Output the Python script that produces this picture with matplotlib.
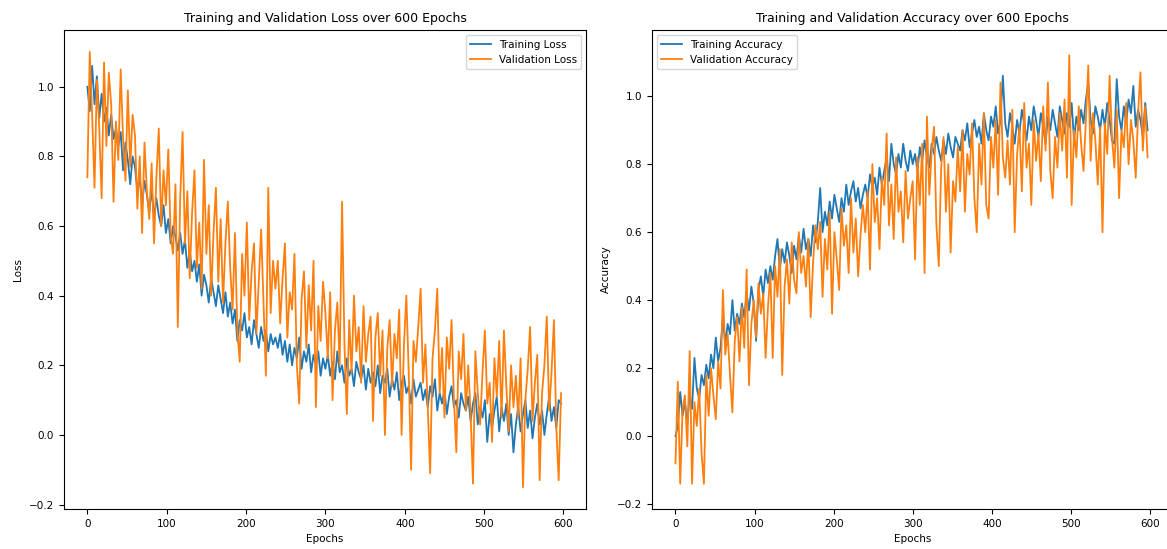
import numpy as np
import matplotlib
matplotlib.use("Agg")
import matplotlib.pyplot as plt

# values, one every 3 epochs (0, 3, ..., 597)
epochs = np.arange(0, 600, 3)

train_loss = [
    1.00, 0.93, 1.06, 0.95, 1.03, 0.91, 0.98, 0.90, 0.94, 0.86, 0.92, 0.85, 0.88, 0.83, 0.87, 0.76, 0.84, 0.79, 0.72, 0.80,
    0.77, 0.70, 0.74, 0.66, 0.73, 0.69, 0.64, 0.71, 0.62, 0.68, 0.63, 0.60, 0.66, 0.58, 0.62, 0.55, 0.60, 0.57, 0.53, 0.58,
    0.52, 0.56, 0.48, 0.53, 0.47, 0.50, 0.44, 0.49, 0.40, 0.46, 0.43, 0.38, 0.45, 0.41, 0.37, 0.43, 0.39, 0.35, 0.41, 0.34,
    0.38, 0.32, 0.36, 0.27, 0.33, 0.30, 0.35, 0.28, 0.31, 0.26, 0.33, 0.29, 0.25, 0.31, 0.27, 0.30, 0.24, 0.29, 0.26, 0.28,
    0.25, 0.29, 0.23, 0.27, 0.21, 0.26, 0.20, 0.25, 0.22, 0.28, 0.19, 0.24, 0.21, 0.26, 0.18, 0.23, 0.20, 0.24, 0.17, 0.22,
    0.19, 0.23, 0.17, 0.21, 0.16, 0.24, 0.18, 0.20, 0.15, 0.22, 0.17, 0.19, 0.14, 0.21, 0.18, 0.16, 0.20, 0.13, 0.19, 0.15,
    0.18, 0.14, 0.20, 0.12, 0.17, 0.15, 0.19, 0.11, 0.16, 0.13, 0.18, 0.10, 0.15, 0.17, 0.12, 0.14, 0.09, 0.16, 0.11, 0.13,
    0.15, 0.10, 0.13, 0.08, 0.14, 0.11, 0.16, 0.07, 0.12, 0.09, 0.13, 0.06, 0.11, 0.14, 0.08, 0.10, 0.05, 0.12, 0.09, 0.07,
    0.11, 0.04, 0.09, 0.12, 0.03, 0.08, 0.05, 0.10, -0.02, 0.06, 0.02, 0.07, 0.11, 0.01, 0.08, 0.04, 0.09, 0.00, 0.06, -0.05,
    0.03, 0.08, 0.01, 0.06, 0.10, 0.02, 0.07, -0.01, 0.05, 0.09, 0.03, 0.07, 0.00, 0.06, 0.11, 0.04, 0.08, 0.02, 0.10, 0.09,
]

val_loss = [
    0.74, 1.10, 0.92, 0.71, 1.02, 0.88, 0.68, 1.07, 0.83, 1.04, 0.95, 0.67, 0.90, 0.79, 1.05, 0.85, 0.73, 0.99, 0.77, 0.92,
    0.86, 0.65, 0.80, 0.58, 0.84, 0.70, 0.62, 0.78, 0.55, 0.74, 0.88, 0.60, 0.76, 0.66, 0.82, 0.57, 0.52, 0.72, 0.31, 0.68,
    0.87, 0.55, 0.70, 0.45, 0.64, 0.76, 0.48, 0.61, 0.42, 0.79, 0.52, 0.66, 0.40, 0.58, 0.71, 0.44, 0.62, 0.38, 0.55, 0.67,
    0.48, 0.36, 0.58, 0.30, 0.21, 0.52, 0.40, 0.61, 0.33, 0.47, 0.55, 0.29, 0.44, 0.59, 0.38, 0.17, 0.71, 0.35, 0.50, 0.42,
    0.50, 0.32, 0.45, 0.55, 0.28, 0.41, 0.36, 0.52, 0.20, 0.09, 0.39, 0.47, 0.25, 0.43, 0.30, 0.50, 0.08, 0.37, 0.27, 0.44,
    0.35, 0.22, 0.41, 0.10, 0.30, 0.38, 0.20, 0.67, 0.26, 0.06, 0.33, 0.18, 0.40, 0.24, 0.31, 0.15, 0.37, 0.21, 0.29, 0.34,
    0.04, 0.28, 0.35, 0.17, 0.30, 0.00, 0.25, 0.33, 0.14, 0.29, 0.22, 0.36, 0.00, 0.26, 0.40, 0.18, -0.10, 0.27, 0.21, 0.31,
    0.42, 0.15, 0.26, 0.08, -0.11, 0.22, 0.30, 0.42, 0.12, 0.25, 0.05, 0.28, 0.19, 0.33, 0.10, -0.05, 0.24, 0.16, 0.29, 0.07,
    0.20, 0.06, -0.14, 0.24, 0.12, 0.03, 0.18, 0.30, 0.09, 0.15, -0.02, 0.22, 0.11, 0.27, 0.05, 0.30, 0.14, 0.01, 0.20, 0.08,
    0.17, 0.05, 0.22, -0.15, 0.10, 0.19, 0.31, 0.04, 0.15, 0.23, -0.13, 0.12, 0.20, 0.34, 0.07, 0.18, 0.33, 0.02, -0.13, 0.12,
]

train_acc = [
    0.00, 0.03, 0.13, 0.06, 0.10, 0.04, 0.12, 0.08, 0.23, 0.14, 0.11, 0.18, 0.15, 0.21, 0.17, 0.24, 0.20, 0.29, 0.22, 0.26,
    0.35, 0.27, 0.33, 0.30, 0.40, 0.31, 0.36, 0.33, 0.39, 0.35, 0.42, 0.37, 0.44, 0.39, 0.28, 0.43, 0.47, 0.41, 0.49, 0.45,
    0.50, 0.46, 0.53, 0.58, 0.49, 0.55, 0.51, 0.57, 0.53, 0.48, 0.56, 0.52, 0.59, 0.54, 0.61, 0.55, 0.58, 0.53, 0.62, 0.57,
    0.63, 0.73, 0.60, 0.66, 0.62, 0.69, 0.64, 0.71, 0.67, 0.63, 0.70, 0.66, 0.74, 0.68, 0.72, 0.75, 0.69, 0.73, 0.67, 0.71,
    0.74, 0.70, 0.77, 0.73, 0.76, 0.71, 0.79, 0.74, 0.78, 0.82, 0.75, 0.86, 0.80, 0.77, 0.83, 0.79, 0.86, 0.81, 0.78, 0.84,
    0.80, 0.83, 0.78, 0.85, 0.81, 0.87, 0.82, 0.79, 0.86, 0.83, 0.88, 0.84, 0.81, 0.87, 0.83, 0.89, 0.85, 0.82, 0.88, 0.86,
    0.84, 0.90, 0.87, 0.92, 0.85, 0.89, 0.93, 0.88, 0.91, 0.86, 0.95, 0.90, 0.87, 0.94, 0.91, 0.97, 0.89, 0.93, 1.06, 0.92,
    0.88, 0.95, 0.91, 0.86, 0.93, 0.89, 0.96, 0.92, 0.87, 0.94, 0.90, 0.97, 0.93, 0.88, 0.95, 0.91, 0.86, 0.94, 0.90, 0.96,
    0.92, 0.88, 0.97, 0.93, 0.89, 0.95, 0.91, 0.98, 0.87, 0.94, 0.90, 0.96, 0.92, 0.99, 1.04, 0.93, 0.89, 0.97, 0.94, 0.90,
    0.96, 0.91, 0.98, 0.93, 0.87, 0.86, 1.05, 0.94, 0.90, 0.97, 0.92, 0.99, 0.95, 1.03, 0.91, 0.96, 0.93, 0.88, 0.98, 0.90,
]

val_acc = [
    -0.08, 0.16, -0.14, 0.08, 0.12, -0.03, 0.25, -0.14, 0.10, 0.03, 0.14, -0.05, -0.14, 0.18, 0.06, 0.20, 0.12, 0.05, 0.22, 0.14,
    0.43, 0.24, 0.30, 0.18, 0.07, 0.28, 0.35, 0.22, 0.38, 0.26, 0.49, 0.15, 0.33, 0.40, 0.29, 0.45, 0.36, 0.42, 0.23, 0.38,
    0.48, 0.23, 0.50, 0.41, 0.55, 0.18, 0.44, 0.52, 0.39, 0.57, 0.46, 0.42, 0.60, 0.48, 0.53, 0.44, 0.58, 0.35, 0.51, 0.62,
    0.55, 0.63, 0.41, 0.58, 0.49, 0.66, 0.36, 0.60, 0.52, 0.43, 0.67, 0.56, 0.62, 0.48, 0.70, 0.54, 0.64, 0.47, 0.59, 0.68,
    0.60, 0.72, 0.49, 0.80, 0.63, 0.70, 0.55, 0.76, 0.68, 0.89, 0.62, 0.74, 0.58, 0.82, 0.66, 0.72, 0.57, 0.78, 0.64, 0.70,
    0.75, 0.52, 0.82, 0.68, 0.86, 0.48, 0.94, 0.71, 0.84, 0.91, 0.62, 0.50, 0.79, 0.88, 0.66, 0.80, 0.54, 0.75, 0.69, 0.85,
    0.72, 0.90, 0.66, 0.83, 0.77, 0.92, 0.70, 0.60, 0.86, 0.74, 0.95, 0.68, 0.64, 0.88, 0.79, 0.93, 0.71, 1.04, 0.82, 0.76,
    0.87, 0.74, 0.96, 0.60, 0.83, 0.91, 0.72, 0.98, 0.79, 0.86, 0.68, 0.93, 0.81, 0.89, 0.75, 0.97, 0.84, 1.04, 0.78, 0.70,
    0.88, 0.79, 0.95, 0.84, 0.99, 0.76, 1.12, 0.68, 0.90, 0.82, 0.97, 0.86, 0.78, 0.93, 1.09, 0.81, 0.95, 0.87, 0.74, 0.91,
    0.60, 0.92, 0.83, 1.06, 0.88, 0.79, 0.96, 0.70, 0.90, 0.85, 0.98, 0.80, 0.93, 0.87, 0.76, 0.95, 1.07, 0.84, 0.97, 0.82,
]

plt.rcParams['font.family'] = 'DejaVu Sans'
plt.rcParams['xtick.labelsize'] = 7.5
plt.rcParams['ytick.labelsize'] = 7.5

fig = plt.figure(figsize=(11.67, 5.49), dpi=100)
ax1 = fig.add_axes([0.0545, 0.073, 0.448, 0.872])
ax2 = fig.add_axes([0.5585, 0.073, 0.4465, 0.872])

# loss panel
ax1.plot(epochs, train_loss, color='#1f77b4', lw=1.3, label='Training Loss')
ax1.plot(epochs, val_loss, color='#ff7f0e', lw=1.3, label='Validation Loss')
ax1.set_title('Training and Validation Loss over 600 Epochs', fontsize=9)
ax1.set_xlabel('Epochs', fontsize=7.5)
ax1.set_ylabel('Loss', fontsize=7.5)
ax1.legend(loc='upper right', fontsize=7.5)

# accuracy panel
ax2.plot(epochs, train_acc, color='#1f77b4', lw=1.3, label='Training Accuracy')
ax2.plot(epochs, val_acc, color='#ff7f0e', lw=1.3, label='Validation Accuracy')
ax2.set_title('Training and Validation Accuracy over 600 Epochs', fontsize=9)
ax2.set_xlabel('Epochs', fontsize=7.5)
ax2.set_ylabel('Accuracy', fontsize=7.5)
ax2.legend(loc='upper left', fontsize=7.5)

for ax in (ax1, ax2):
    ax.set_xlim(-29.95, 628.95)
    ax.set_xticks([0, 100, 200, 300, 400, 500, 600])
ax1.set_ylim(-0.2125, 1.1625)
ax2.set_ylim(-0.214, 1.194)

fig.savefig('out.png', dpi=100)
